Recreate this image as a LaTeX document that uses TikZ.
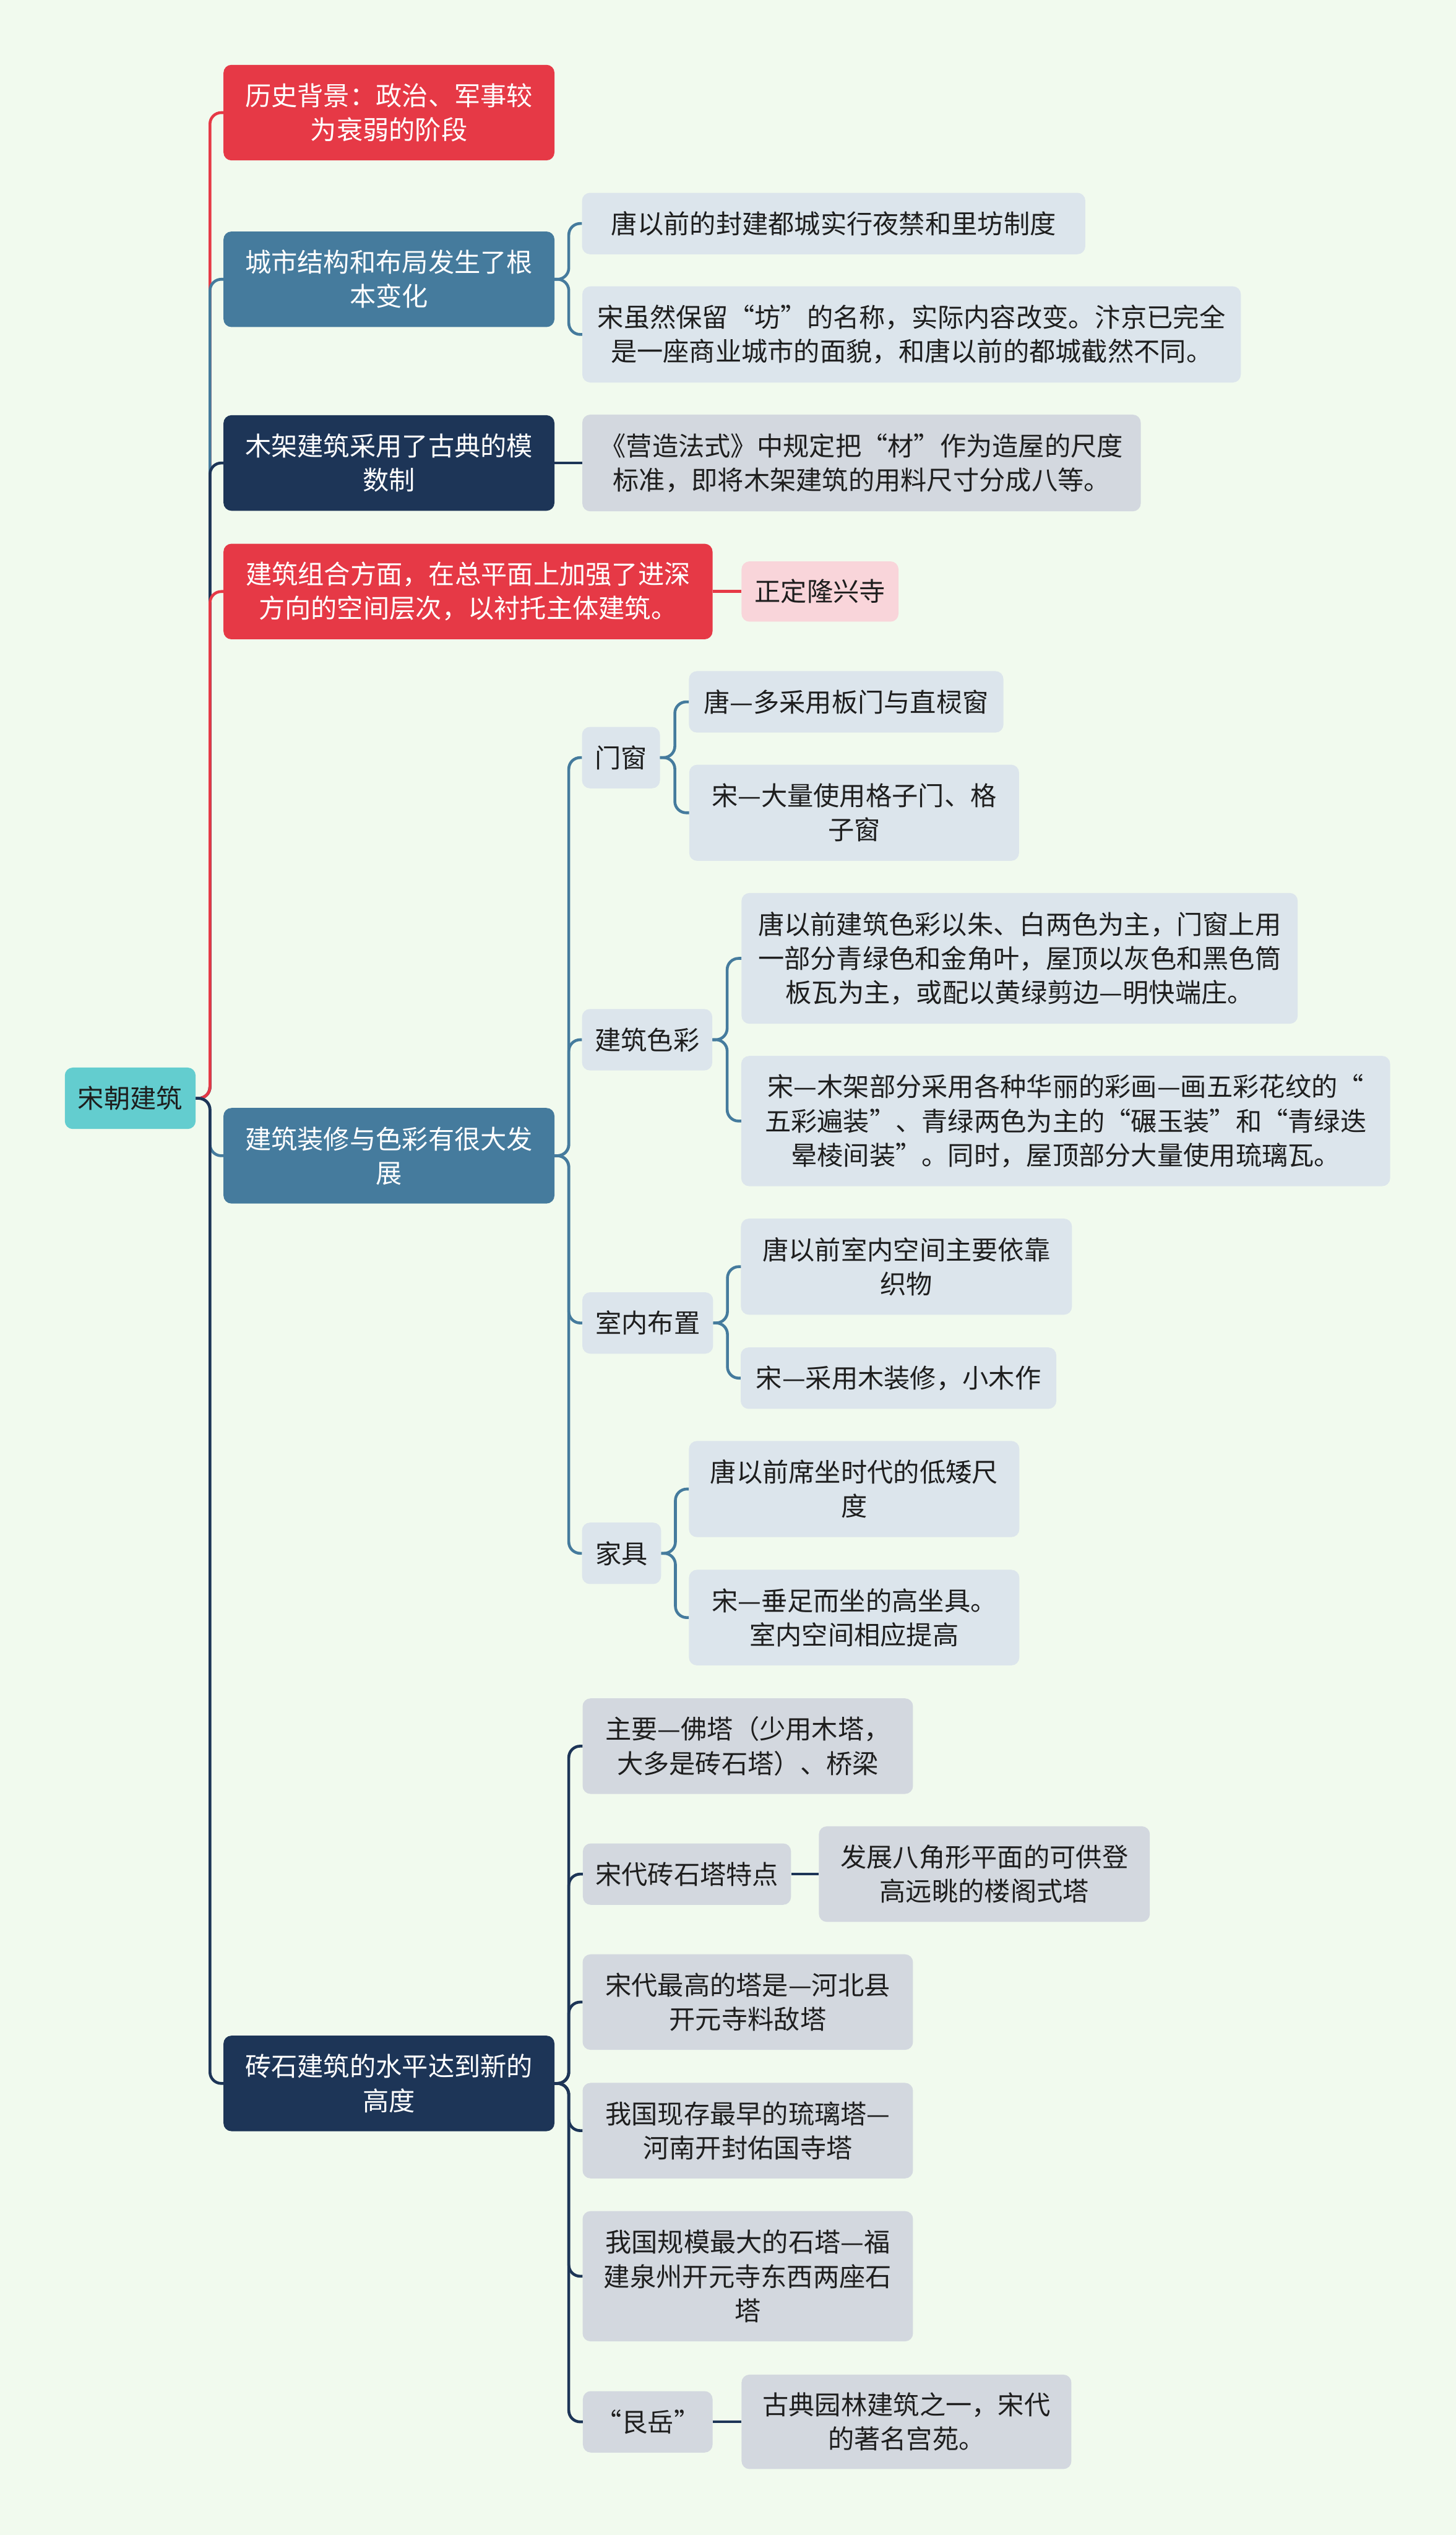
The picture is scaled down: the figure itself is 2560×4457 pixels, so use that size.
\documentclass[tikz,border=0pt]{standalone}
\usepackage{fontspec}
\setmainfont{Noto Sans CJK SC}
\definecolor{bgc}{HTML}{F1FAEE}
\definecolor{cred}{HTML}{E63946}
\definecolor{cblue}{HTML}{457B9D}
\definecolor{cnavy}{HTML}{1D3557}
\definecolor{croot}{HTML}{63CDCF}
\definecolor{lblue}{HTML}{DCE5EC}
\definecolor{lgray}{HTML}{D3D8DF}
\definecolor{lpink}{HTML}{F9D5DA}
\definecolor{tdark}{HTML}{1E1E1E}
\newcommand\fs{\fontsize{46pt}{60pt}\selectfont}
\tikzset{
  box/.style={rounded corners=14pt, inner sep=0pt, align=center, font=\fs},
  rootbox/.style={box, fill=croot, text=tdark},
  redbox/.style={box, fill=cred, text=white},
  bluebox/.style={box, fill=cblue, text=white},
  navybox/.style={box, fill=cnavy, text=white},
  bleaf/.style={box, fill=lblue, text=tdark},
  gleaf/.style={box, fill=lgray, text=tdark},
  pleaf/.style={box, fill=lpink, text=tdark},
  conn/.style={draw=#1, line width=5pt, rounded corners=20pt},
  sz/.style 2 args={minimum width=#1pt, minimum height=#2pt},
}
\begin{document}
\begin{tikzpicture}[x=1pt, y=-1pt]
\fill[bgc] (0,0) rectangle (2560,4457);
\useasboundingbox (0,0) rectangle (2560,4457);

% root
\node[rootbox, sz={230}{108}] (root) at (229,1931) {宋朝建筑};

% level 1
\node[redbox, sz={582}{168}] (a1) at (684,198) {历史背景：政治、军事较\\为衰弱的阶段};
\node[bluebox, sz={582}{168}] (a2) at (684,491) {城市结构和布局发生了根\\本变化};
\node[navybox, sz={582}{168}] (a3) at (684,814) {木架建筑采用了古典的模\\数制};
\node[redbox, sz={860}{168}] (a4) at (823,1040) {建筑组合方面，在总平面上加强了进深\\方向的空间层次，以衬托主体建筑。};
\node[bluebox, sz={582}{168}] (a5) at (684,2032) {建筑装修与色彩有很大发\\展};
\node[navybox, sz={582}{168}] (a6) at (684,3663) {砖石建筑的水平达到新的\\高度};

% level 2 under a2, a3, a4
\node[bleaf, sz={885}{108}] (b1) at (1466,393) {唐以前的封建都城实行夜禁和里坊制度};
\node[bleaf, sz={1158}{169}] (b2) at (1603,588) {宋虽然保留“坊”的名称，实际内容改变。汴京已完全\\是一座商业城市的面貌，和唐以前的都城截然不同。};
\node[gleaf, sz={982}{170}] (b3) at (1515,814) {《营造法式》中规定把“材”作为造屋的尺度\\标准，即将木架建筑的用料尺寸分成八等。};
\node[pleaf, sz={276}{106}] (g1) at (1442,1040) {正定隆兴寺};

% under a5
\node[bleaf, sz={137}{108}] (c1) at (1092,1332) {门窗};
\node[bleaf, sz={553}{108}] (d1) at (1488,1234) {唐—多采用板门与直棂窗};
\node[bleaf, sz={580}{169}] (d2) at (1502,1429) {宋—大量使用格子门、格\\子窗};
\node[bleaf, sz={229}{108}] (c2) at (1138,1828) {建筑色彩};
\node[bleaf, sz={978}{230}] (d3) at (1793,1685) {唐以前建筑色彩以朱、白两色为主，门窗上用\\一部分青绿色和金角叶，屋顶以灰色和黑色筒\\板瓦为主，或配以黄绿剪边—明快端庄。};
\node[bleaf, sz={1141}{229}] (d4) at (1874,1971) {宋—木架部分采用各种华丽的彩画—画五彩花纹的“\\五彩遍装”、青绿两色为主的“碾玉装”和“青绿迭\\晕棱间装”。同时，屋顶部分大量使用琉璃瓦。};
\node[bleaf, sz={230}{108}] (c3) at (1139,2326) {室内布置};
\node[bleaf, sz={582}{169}] (d5) at (1594,2227) {唐以前室内空间主要依靠\\织物};
\node[bleaf, sz={555}{108}] (d6) at (1580,2423) {宋—采用木装修，小木作};
\node[bleaf, sz={139}{108}] (c4) at (1093,2731) {家具};
\node[bleaf, sz={581}{169}] (d7) at (1502,2618) {唐以前席坐时代的低矮尺\\度};
\node[bleaf, sz={581}{168}] (d8) at (1502,2844) {宋—垂足而坐的高坐具。\\室内空间相应提高};

% under a6
\node[gleaf, sz={581}{168}] (e1) at (1315,3070) {主要—佛塔（少用木塔，\\大多是砖石塔）、桥梁};
\node[gleaf, sz={366}{108}] (e2) at (1208,3295) {宋代砖石塔特点};
\node[gleaf, sz={582}{168}] (f1) at (1731,3295) {发展八角形平面的可供登\\高远眺的楼阁式塔};
\node[gleaf, sz={581}{168}] (e3) at (1315,3520) {宋代最高的塔是—河北县\\开元寺料敌塔};
\node[gleaf, sz={581}{168}] (e4) at (1315,3746) {我国现存最早的琉璃塔—\\河南开封佑国寺塔};
\node[gleaf, sz={581}{229}] (e5) at (1315,4002) {我国规模最大的石塔—福\\建泉州开元寺东西两座石\\塔};
\node[gleaf, sz={228}{108}] (e6) at (1139,4258) {“艮岳”};
\node[gleaf, sz={580}{166}] (f2) at (1594,4258) {古典园林建筑之一，宋代\\的著名宫苑。};

% level-1 connectors
\draw[conn=cred] (root.east) -- ++(25,0) |- (a1.west);
\draw[conn=cblue] (root.east) -- ++(25,0) |- (a2.west);
\draw[conn=cnavy] (root.east) -- ++(25,0) |- (a3.west);
\draw[conn=cred] (root.east) -- ++(25,0) |- (a4.west);
\draw[conn=cblue] (root.east) -- ++(25,0) |- (a5.west);
\draw[conn=cnavy] (root.east) -- ++(25,0) |- (a6.west);

% level-2 connectors
\draw[conn=cblue] (a2.east) -- ++(25,0) |- (b1.west);
\draw[conn=cblue] (a2.east) -- ++(25,0) |- (b2.west);
\draw[conn=cnavy] (a3.east) -- (b3.west);
\draw[conn=cred] (a4.east) -- (g1.west);

\foreach \c in {c1,c2,c3,c4} {\draw[conn=cblue] (a5.east) -- ++(25,0) |- (\c.west);}
\draw[conn=cblue] (c1.east) -- ++(26,0) |- (d1.west);
\draw[conn=cblue] (c1.east) -- ++(26,0) |- (d2.west);
\draw[conn=cblue] (c2.east) -- ++(26,0) |- (d3.west);
\draw[conn=cblue] (c2.east) -- ++(26,0) |- (d4.west);
\draw[conn=cblue] (c3.east) -- ++(25,0) |- (d5.west);
\draw[conn=cblue] (c3.east) -- ++(25,0) |- (d6.west);
\draw[conn=cblue] (c4.east) -- ++(25,0) |- (d7.west);
\draw[conn=cblue] (c4.east) -- ++(25,0) |- (d8.west);

\foreach \c in {e1,e2,e3,e4,e5,e6} {\draw[conn=cnavy] (a6.east) -- ++(25,0) |- (\c.west);}
\draw[conn=cnavy] (e2.east) -- (f1.west);
\draw[conn=cnavy] (e6.east) -- (f2.west);
\end{tikzpicture}
\end{document}
